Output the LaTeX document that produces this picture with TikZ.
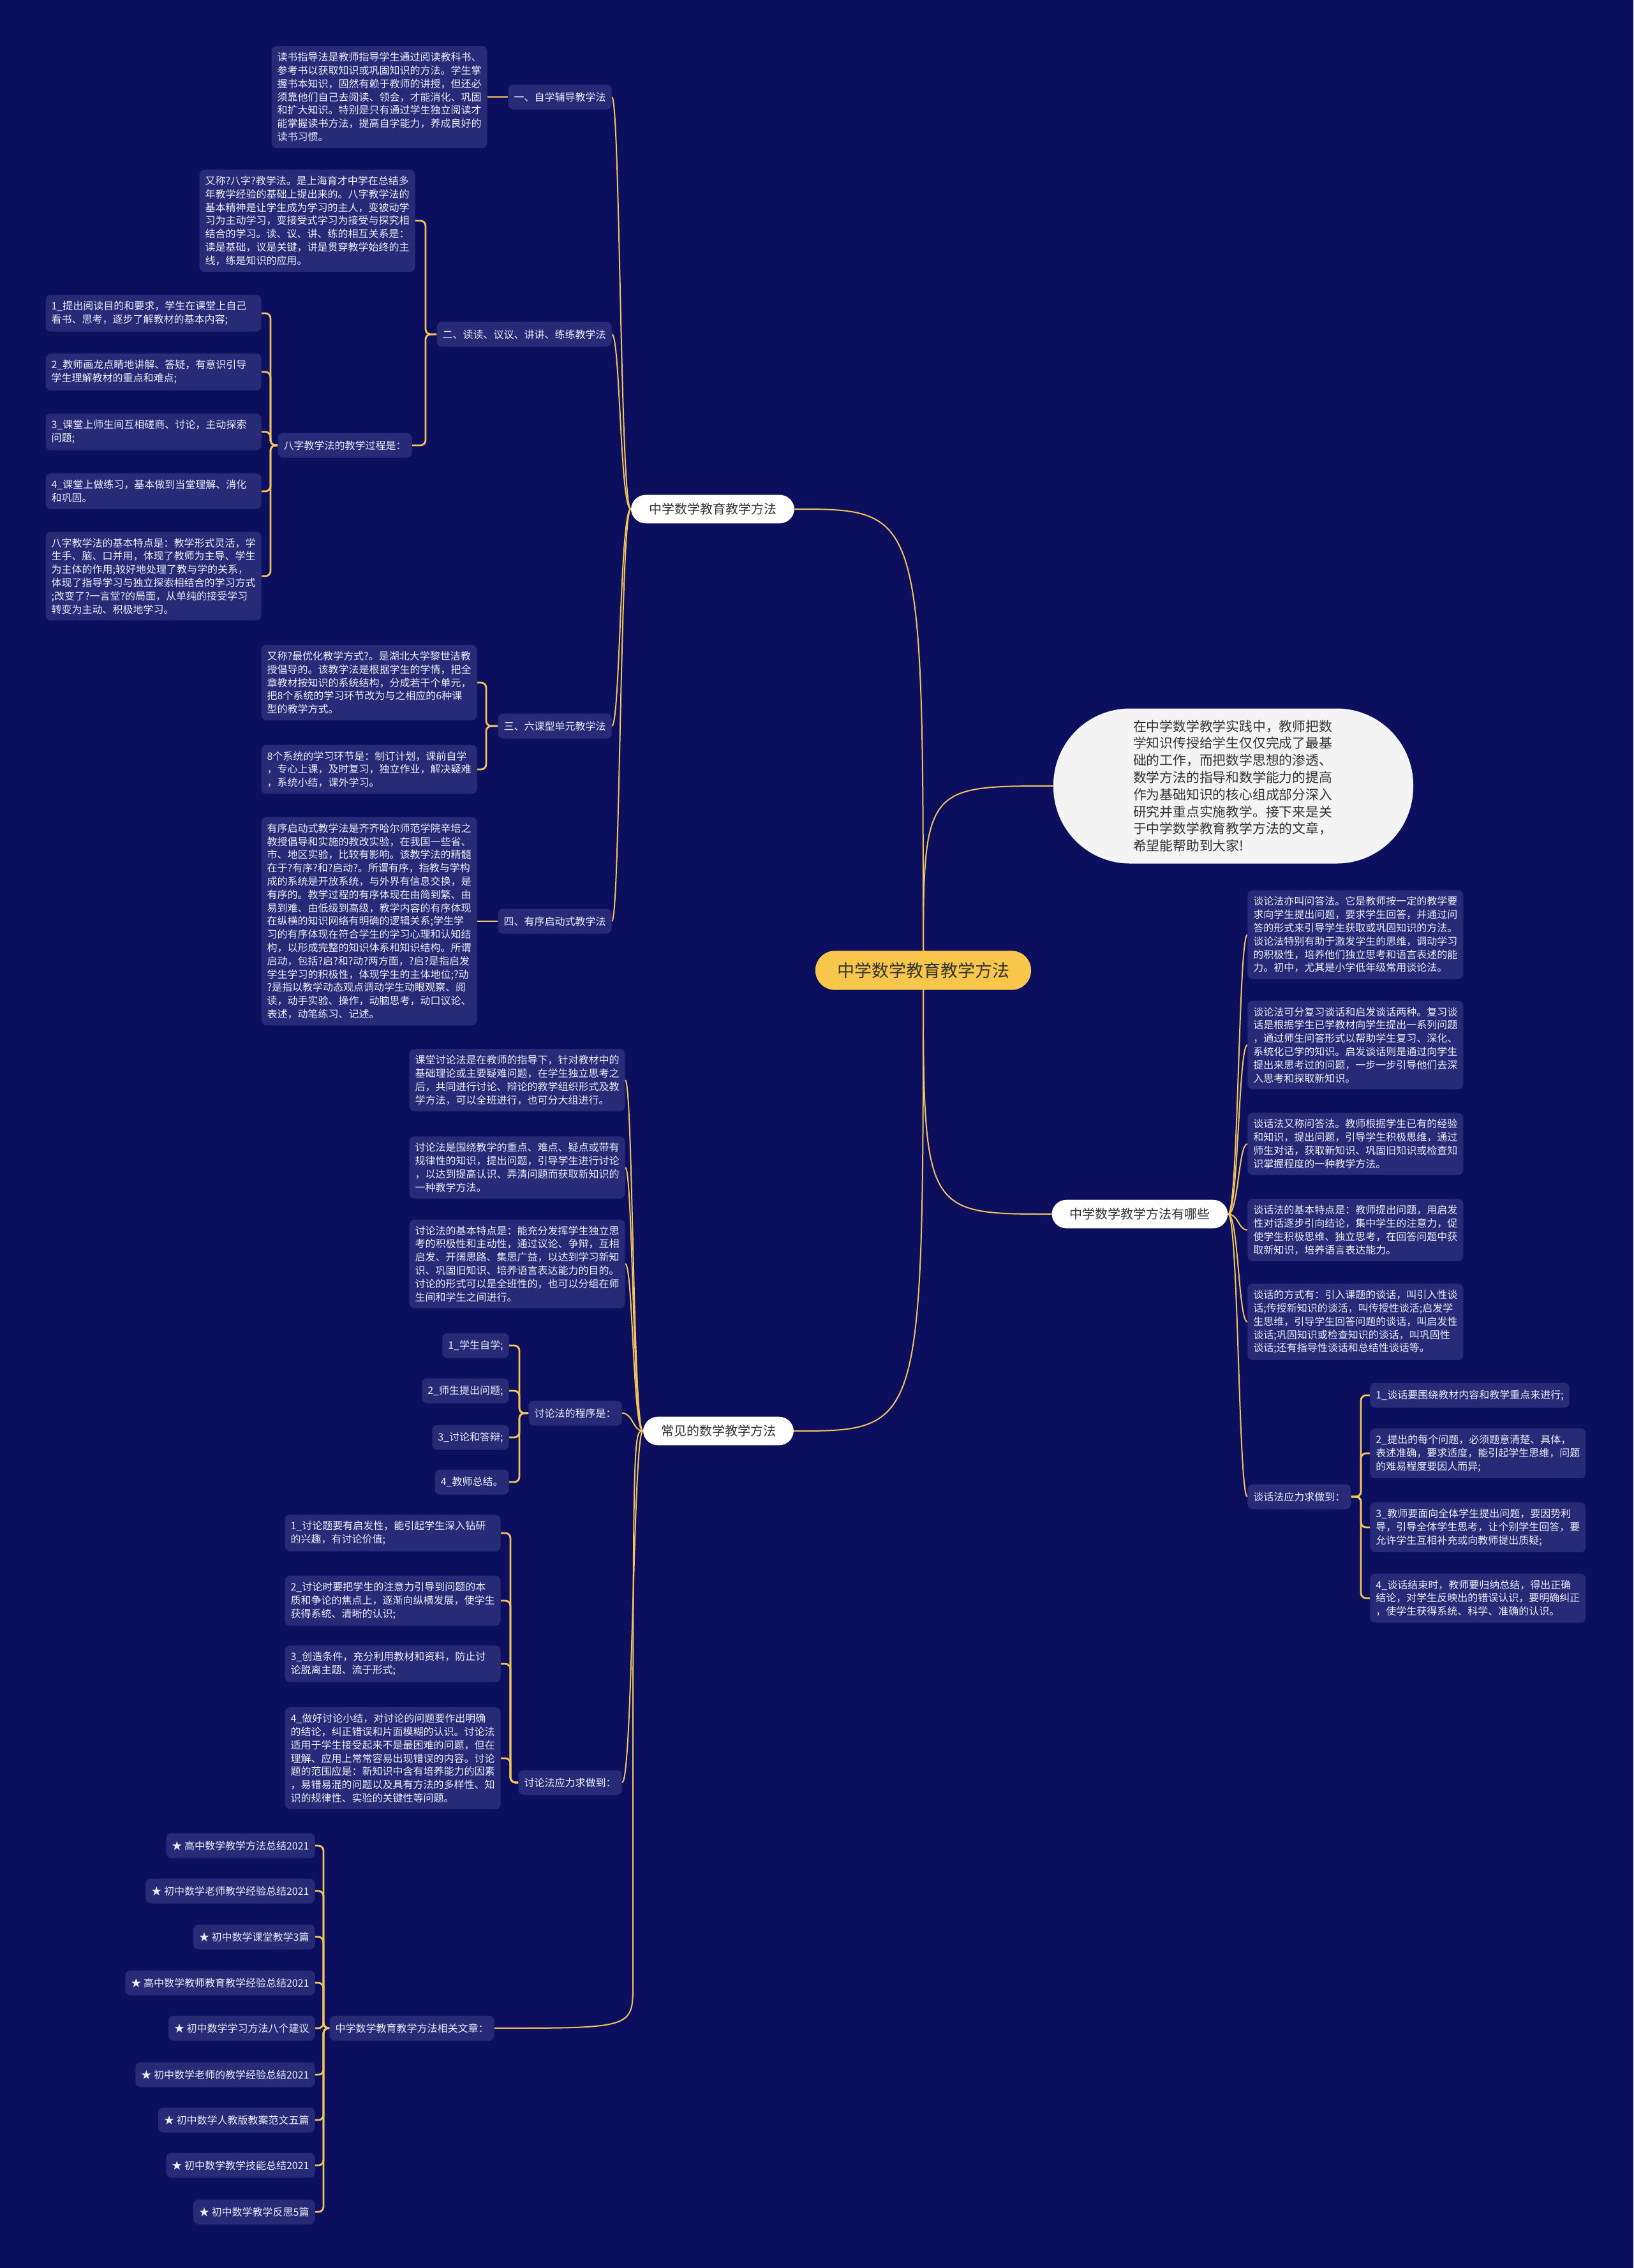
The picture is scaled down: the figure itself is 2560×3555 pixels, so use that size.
\documentclass[tikz,border=0pt]{standalone}
\usepackage{fontspec}
\setmainfont{Noto Sans CJK SC}
\usepackage{tikz}
\usetikzlibrary{positioning}
\definecolor{bgnavy}{HTML}{0B0F5E}
\definecolor{boxfill}{HTML}{272B77}
\definecolor{gold}{HTML}{F2C45A}
\definecolor{centre}{HTML}{F8C64B}
\definecolor{ink}{HTML}{333333}
\definecolor{pale}{HTML}{EDEDF5}
\definecolor{paper}{HTML}{F4F4F4}
\pgfdeclarelayer{back}
\pgfdeclarelayer{wires}
\pgfsetlayers{back,wires,main}

\begin{document}
\begin{tikzpicture}[x=0.5pt, y=-0.5pt,
    leaf/.style={fill=boxfill, text=pale, rounded corners=4pt,
      inner xsep=4.5pt, inner ysep=5pt, minimum height=19.5pt, align=left,
      font=\fontsize{8}{10.4}\selectfont},
    para/.style={leaf, text width=160pt},
    topic/.style={fill=white, text=ink, rounded corners=11.5pt,
      inner xsep=14pt, inner ysep=6.5pt, font=\fontsize{10}{12}\selectfont},
    wire/.style={gold, line width=1pt},
    brace/.style={gold, line width=1.4pt, rounded corners=4pt}]
  \useasboundingbox (0,0) rectangle (2560,3555);
  \begin{pgfonlayer}{back}
    \fill[bgnavy] (0,0) rectangle (2560,3555);
  \end{pgfonlayer}

  % centre and first ring
  \node[fill=centre, text=ink, rounded corners=15pt, inner xsep=17pt,
    inner ysep=9pt, font=\fontsize{13.5}{16}\selectfont]
    (ctr) at (1447,1521) {中学数学教育教学方法};
  \node[topic] (ta) at (1117,798) {中学数学教育教学方法};
  \node[topic, anchor=west] (tb) at (1648,1903) {中学数学教学方法有哪些};
  \node[topic] (tc) at (1126,2243) {常见的数学教学方法};
  \node[fill=paper, text=ink, rounded corners=60pt, minimum width=282pt,
    minimum height=121.5pt, text width=157pt, align=left,
    font=\fontsize{10.4}{13.4}\selectfont] (intro) at (1933,1232)
    {在中学数学教学实践中，教师把数\\学知识传授给学生仅仅完成了最基\\础的工作，而把数学思想的渗透、\\数学方法的指导和数学能力的提高\\作为基础知识的核心组成部分深入\\研究并重点实施教学。接下来是关\\于中学数学教育教学方法的文章，\\希望能帮助到大家!};

  % trunk and bracket joints
  \coordinate (tA) at (972,798);
  \coordinate (tB) at (1941,1903);
  \coordinate (tC) at (992,2243);
  \coordinate (kC6) at (992,3110);
  \coordinate (jA2) at (667,524);
  \coordinate (jA2b) at (424,698);
  \coordinate (jA3) at (762,1138);
  \coordinate (jB6) at (2133,2346);
  \coordinate (jC4) at (814,2215);
  \coordinate (jC5) at (800,2794);
  \coordinate (jC6) at (507,3179);

  % branch a
  \node[leaf, anchor=east] (a1) at (959,152) {一、自学辅导教学法};
  \node[para, anchor=east] (a1t) at (764,152)
    {读书指导法是教师指导学生通过阅读教科书、\\参考书以获取知识或巩固知识的方法。学生掌\\握书本知识，固然有赖于教师的讲授，但还必\\须靠他们自己去阅读、领会，才能消化、巩固\\和扩大知识。特别是只有通过学生独立阅读才\\能掌握读书方法，提高自学能力，养成良好的\\读书习惯。};
  \node[leaf, anchor=east] (a2) at (959,524) {二、读读、议议、讲讲、练练教学法};
  \node[para, anchor=east] (a2a) at (651,346)
    {又称?八字?教学法。是上海育才中学在总结多\\年教学经验的基础上提出来的。八字教学法的\\基本精神是让学生成为学习的主人，变被动学\\习为主动学习，变接受式学习为接受与探究相\\结合的学习。读、议、讲、练的相互关系是：\\读是基础，议是关键，讲是贯穿教学始终的主\\线，练是知识的应用。};
  \node[leaf, anchor=east] (a2b) at (646,698) {八字教学法的教学过程是：};
  \node[para, anchor=east] (p1) at (410,491)
    {1\_提出阅读目的和要求，学生在课堂上自己\\看书、思考，逐步了解教材的基本内容;};
  \node[para, anchor=east] (p2) at (410,583)
    {2\_教师画龙点睛地讲解、答疑，有意识引导\\学生理解教材的重点和难点;};
  \node[para, anchor=east] (p3) at (410,677)
    {3\_课堂上师生间互相磋商、讨论，主动探索\\问题;};
  \node[para, anchor=east] (p4) at (410,770)
    {4\_课堂上做练习，基本做到当堂理解、消化\\和巩固。};
  \node[para, anchor=east] (p5) at (410,903)
    {八字教学法的基本特点是：教学形式灵活，学\\生手、脑、口并用，体现了教师为主导、学生\\为主体的作用;较好地处理了教与学的关系，\\体现了指导学习与独立探索相结合的学习方式\\;改变了?一言堂?的局面，从单纯的接受学习\\转变为主动、积极地学习。};
  \node[leaf, anchor=east] (a3) at (959,1138) {三、六课型单元教学法};
  \node[para, anchor=east] (a3a) at (748,1070)
    {又称?最优化教学方式?。是湖北大学黎世洁教\\授倡导的。该教学法是根据学生的学情，把全\\章教材按知识的系统结构，分成若干个单元，\\把8个系统的学习环节改为与之相应的6种课\\型的教学方式。};
  \node[para, anchor=east] (a3b) at (748,1206)
    {8个系统的学习环节是：制订计划，课前自学\\，专心上课，及时复习，独立作业，解决疑难\\，系统小结，课外学习。};
  \node[leaf, anchor=east] (a4) at (959,1444) {四、有序启动式教学法};
  \node[para, anchor=east] (a4t) at (748,1444)
    {有序启动式教学法是齐齐哈尔师范学院辛培之\\教授倡导和实施的教改实验，在我国一些省、\\市、地区实验，比较有影响。该教学法的精髓\\在于?有序?和?启动?。所谓有序，指教与学构\\成的系统是开放系统，与外界有信息交换，是\\有序的。教学过程的有序体现在由简到繁、由\\易到难、由低级到高级，教学内容的有序体现\\在纵横的知识网络有明确的逻辑关系;学生学\\习的有序体现在符合学生的学习心理和认知结\\构，以形成完整的知识体系和知识结构。所谓\\启动，包括?启?和?动?两方面，?启?是指启发\\学生学习的积极性，体现学生的主体地位;?动\\?是指以教学动态观点调动学生动眼观察、阅\\读，动手实验、操作，动脑思考，动口议论、\\表述，动笔练习、记述。};

  % branch b
  \node[para, anchor=west] (b1) at (1955,1465)
    {谈论法亦叫问答法。它是教师按一定的教学要\\求向学生提出问题，要求学生回答，并通过问\\答的形式来引导学生获取或巩固知识的方法。\\谈论法特别有助于激发学生的思维，调动学习\\的积极性，培养他们独立思考和语言表述的能\\力。初中，尤其是小学低年级常用谈论法。};
  \node[para, anchor=west] (b2) at (1955,1638)
    {谈论法可分复习谈话和启发谈话两种。复习谈\\话是根据学生已学教材向学生提出一系列问题\\，通过师生问答形式以帮助学生复习、深化、\\系统化已学的知识。启发谈话则是通过向学生\\提出来思考过的问题，一步一步引导他们去深\\入思考和探取新知识。};
  \node[para, anchor=west] (b3) at (1955,1793)
    {谈话法又称问答法。教师根据学生已有的经验\\和知识，提出问题，引导学生积极思维，通过\\师生对话，获取新知识、巩固旧知识或检查知\\识掌握程度的一种教学方法。};
  \node[para, anchor=west] (b4) at (1955,1928)
    {谈话法的基本特点是：教师提出问题，用启发\\性对话逐步引向结论，集中学生的注意力，促\\使学生积极思维、独立思考，在回答问题中获\\取新知识，培养语言表达能力。};
  \node[para, anchor=west] (b5) at (1955,2072)
    {谈话的方式有：引入课题的谈话，叫引入性谈\\话;传授新知识的谈活，叫传授性谈活;启发学\\生思维，引导学生回答问题的谈话，叫启发性\\谈话;巩固知识或检查知识的谈话，叫巩固性\\谈话;还有指导性谈话和总结性谈话等。};
  \node[leaf, anchor=west] (b6) at (1955,2346) {谈话法应力求做到：};
  \node[leaf, anchor=west] (q1) at (2147,2187) {1\_谈话要围绕教材内容和教学重点来进行;};
  \node[para, anchor=west] (q2) at (2147,2278)
    {2\_提出的每个问题，必须题意清楚、具体，\\表述准确，要求适度，能引起学生思维，问题\\的难易程度要因人而异;};
  \node[para, anchor=west] (q3) at (2147,2394)
    {3\_教师要面向全体学生提出问题，要因势利\\导，引导全体学生思考，让个别学生回答，要\\允许学生互相补充或向教师提出质疑;};
  \node[para, anchor=west] (q4) at (2147,2505)
    {4\_谈话结束时，教师要归纳总结，得出正确\\结论，对学生反映出的错误认识，要明确纠正\\，使学生获得系统、科学、准确的认识。};

  % branch c
  \node[para, anchor=east] (c1) at (980,1693)
    {课堂讨论法是在教师的指导下，针对教材中的\\基础理论或主要疑难问题，在学生独立思考之\\后，共同进行讨论、辩论的教学组织形式及教\\学方法，可以全班进行，也可分大组进行。};
  \node[para, anchor=east] (c2) at (980,1830)
    {讨论法是围绕教学的重点、难点、疑点或带有\\规律性的知识，提出问题，引导学生进行讨论\\，以达到提高认识、弄清问题而获取新知识的\\一种教学方法。};
  \node[para, anchor=east] (c3) at (980,1981)
    {讨论法的基本特点是：能充分发挥学生独立思\\考的积极性和主动性，通过议论、争辩，互相\\启发、开阔思路、集思广益，以达到学习新知\\识、巩固旧知识、培养语言表达能力的目的。\\讨论的形式可以是全班性的，也可以分组在师\\生间和学生之间进行。};
  \node[leaf, anchor=east] (c4) at (975,2215) {讨论法的程序是：};
  \foreach \i/\y/\txt in {1/2109/学生自学;, 2/2180/师生提出问题;,
      3/2253/讨论和答辩;, 4/2323/教师总结。}
    \node[leaf, anchor=east] (r\i) at (798,\y) {\i\_\txt};
  \node[leaf, anchor=east] (c5) at (975,2794) {讨论法应力求做到：};
  \node[para, anchor=east] (d1) at (785,2403)
    {1\_讨论题要有启发性，能引起学生深入钻研\\的兴趣，有讨论价值;};
  \node[para, anchor=east] (d2) at (785,2509)
    {2\_讨论时要把学生的注意力引导到问题的本\\质和争论的焦点上，逐渐向纵横发展，使学生\\获得系统、清晰的认识;};
  \node[para, anchor=east] (d3) at (785,2608)
    {3\_创造条件，充分利用教材和资料，防止讨\\论脱离主题、流于形式;};
  \node[para, anchor=east] (d4) at (785,2756)
    {4\_做好讨论小结，对讨论的问题要作出明确\\的结论，纠正错误和片面模糊的认识。讨论法\\适用于学生接受起来不是最困难的问题，但在\\理解、应用上常常容易出现错误的内容。讨论\\题的范围应是：新知识中含有培养能力的因素\\，易错易混的问题以及具有方法的多样性、知\\识的规律性、实验的关键性等问题。};
  \node[leaf, anchor=east] (c6) at (775,3179) {中学数学教育教学方法相关文章：};
  \foreach \i/\y/\txt in {1/2893/高中数学教学方法总结2021,
      2/2964/初中数学老师教学经验总结2021, 3/3036/初中数学课堂教学3篇,
      4/3108/高中数学教师教育教学经验总结2021, 5/3179/初中数学学习方法八个建议,
      6/3252/初中数学老师的教学经验总结2021, 7/3323/初中数学人教版教案范文五篇,
      8/3394/初中数学教学技能总结2021, 9/3467/初中数学教学反思5篇}
    \node[leaf, anchor=east] (s\i) at (494,\y) {★ \txt};

  \begin{pgfonlayer}{wires}
    % centre to first ring
    \draw[wire] (ctr.center) .. controls (ctr.center |- ta.east) .. (ta.east);
    \draw[wire] (ctr.center) .. controls (ctr.center |- intro.west) .. (intro.west);
    \draw[wire] (ctr.center) .. controls (ctr.center |- tb.west) .. (tb.west);
    \draw[wire] (ctr.center) .. controls (ctr.center |- tc.east) .. (tc.east);
    % trunks
    \foreach \k in {a1,a2,a3,a4}
      \draw[wire] (ta.west) .. controls (tA) and (tA |- \k.east) .. (\k.east);
    \foreach \k in {b1,b2,b3,b4,b5,b6}
      \draw[wire] (tb.east) .. controls (tB) and (tB |- \k.west) .. (\k.west);
    \foreach \k in {c1,c2,c3,c4,c5}
      \draw[wire] (tc.west) .. controls (tC) and (tC |- \k.east) .. (\k.east);
    \draw[wire] (tc.west) .. controls (tC) and (tC) .. (kC6)
      .. controls (tC |- c6.east) .. (c6.east);
    % brackets
    \draw[brace] (a1.west) -- (a1t.east);
    \draw[brace] (a4.west) -- (a4t.east);
    \foreach \k in {a2a,a2b}
      \draw[brace] (a2.west) -- (jA2) |- (\k.east);
    \foreach \k in {p1,p2,p3,p4,p5}
      \draw[brace] (a2b.west) -- (jA2b) |- (\k.east);
    \foreach \k in {a3a,a3b}
      \draw[brace] (a3.west) -- (jA3) |- (\k.east);
    \foreach \k in {q1,q2,q3,q4}
      \draw[brace] (b6.east) -- (jB6) |- (\k.west);
    \foreach \i in {1,...,4}
      \draw[brace] (c4.west) -- (jC4) |- (r\i.east);
    \foreach \i in {1,...,4}
      \draw[brace] (c5.west) -- (jC5) |- (d\i.east);
    \foreach \i in {1,...,9}
      \draw[brace] (c6.west) -- (jC6) |- (s\i.east);
  \end{pgfonlayer}
\end{tikzpicture}
\end{document}
